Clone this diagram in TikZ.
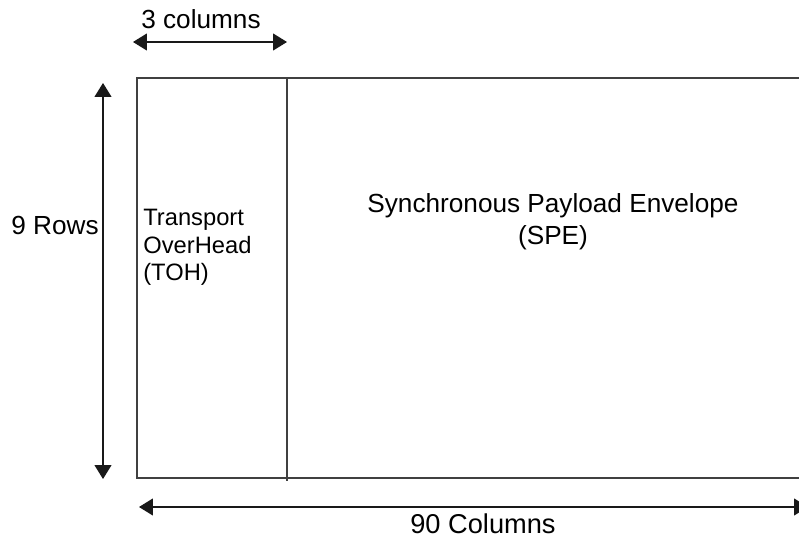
\documentclass[tikz,border=0pt]{standalone}
\usepackage{fontspec}
\setmainfont{Liberation Sans}
\usetikzlibrary{arrows.meta}

\begin{document}
\begin{tikzpicture}[
  x=0.02cm, y=-0.02cm,
  lbl/.style    = {font=\fontsize{14.9}{18}\selectfont, inner sep=0pt,
                   align=center},
  dimarr/.style = {{Triangle[length=0.28cm,width=0.34cm]}-{Triangle[length=0.28cm,width=0.34cm]},
                   line width=0.7pt, black!90},
  frame/.style  = {draw=black!75, line width=0.7pt},
]
\useasboundingbox (0,0) rectangle (799,537);
\clip (0,0) rectangle (799,537);

%% ── frame ───────────────────────────────────────────────────────────────────
\coordinate (tl)     at (137,78);
\coordinate (br)     at (830,478);
\coordinate (divtop) at (287,78);
\coordinate (divbot) at (287,481);
\draw[frame] (tl) rectangle (br);
\draw[frame] (divtop) -- (divbot);

\node[lbl, align=left, anchor=north west,
      font=\fontsize{13.5}{15.6}\selectfont] (toh) at (143,209)
  {Transport\\OverHead\\(TOH)};
\node[lbl] (spe) at (553,222) {Synchronous Payload Envelope\\(SPE)};

%% ── dimensions ──────────────────────────────────────────────────────────────
\coordinate (colL) at (133,42);
\coordinate (colR) at (287,42);
\draw[dimarr] (colL) -- (colR);
\node[lbl] (cols3) at (201,19) {3 columns};

\coordinate (rowT) at (103,83);
\coordinate (rowB) at (103,479);
\draw[dimarr] (rowT) -- (rowB);
\node[lbl] (rows9) at (55,225) {9 Rows};

\coordinate (allL) at (139,507);
\coordinate (allR) at (808,507);
\draw[dimarr] (allL) -- (allR);
\node[lbl, font=\fontsize{15.5}{18}\selectfont] (cols90) at (483,524) {90 Columns};

\end{tikzpicture}
\end{document}
